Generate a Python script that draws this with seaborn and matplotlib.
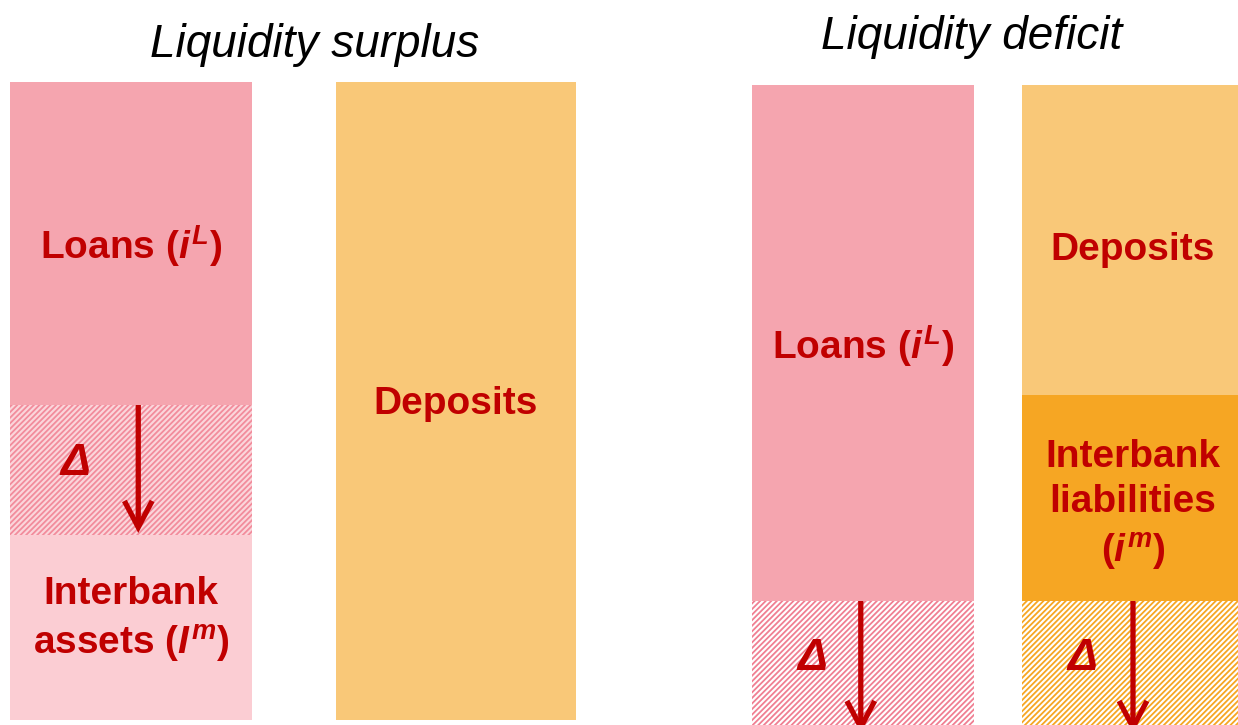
import numpy as np
import matplotlib
matplotlib.use("Agg")
import matplotlib.pyplot as plt
import seaborn as sns

# balance-sheet segments, listed top to bottom (heights in drawing units)
surplus_asset_labels = ["Loans ($i^{L}$)", "Δ", "Interbank\nassets ($I^{m}$)"]
surplus_asset_values = [323, 130, 185]
surplus_liab_labels = ["Deposits"]
surplus_liab_values = [638]

deficit_asset_labels = ["Loans ($i^{L}$)", "Δ"]
deficit_asset_values = [516, 140]
deficit_liab_labels = ["Deposits", "Interbank\nliabilities\n($i^{m}$)", "Δ"]
deficit_liab_values = [310, 206, 140]

titles = ["Liquidity surplus", "Liquidity deficit"]

sns.set_theme(style="white")
plt.rcParams["font.family"] = ["Liberation Sans", "DejaVu Sans"]
plt.rcParams["mathtext.fontset"] = "custom"
plt.rcParams["mathtext.it"] = "Liberation Sans:bold:italic"
plt.rcParams["mathtext.rm"] = "Liberation Sans:bold"
plt.rcParams["mathtext.bf"] = "Liberation Sans:bold"
plt.rcParams["hatch.linewidth"] = 1.3

red = "#C00000"
pink = "#F5A5AF"
light_pink = "#FBCDD3"
peach = "#F9C878"
orange = "#F6A623"

fig = plt.figure(figsize=(12.38, 7.25), dpi=100)
ax = fig.add_axes([0, 0, 1, 1])
ax.set_xlim(0, 1238)
ax.set_ylim(725, 0)
ax.axis("off")


def draw_column(left, width, top, labels, values, styles, arrow_at=0.53, arrow_len=None):
    bottoms = top + np.concatenate([[0], np.cumsum(values)[:-1]])
    for lab, h, b, st in zip(labels, values, bottoms, styles):
        if st.get("hatch"):
            ax.bar(left, h, width=width, bottom=b, align="edge",
                   color=st["bg"], edgecolor=st["line"], hatch="//////", linewidth=0)
            ax.text(left + width * 0.27, b + 58, lab, color=red, fontsize=32,
                    fontweight="bold", fontstyle="italic", ha="center", va="center")
            xa = left + width * arrow_at
            end = b + (arrow_len if arrow_len else h - 2)
            ax.annotate("", xy=(xa, end), xytext=(xa, b), annotation_clip=False,
                        arrowprops=dict(arrowstyle="->,head_length=0.95,head_width=0.5",
                                        mutation_scale=20, color=red, lw=3.8,
                                        shrinkA=0, shrinkB=0,
                                        capstyle="butt", joinstyle="miter"))
        else:
            ax.bar(left, h, width=width, bottom=b, align="edge", color=st["bg"], linewidth=0)
            ax.text(left + width / 2, b + h / 2 + st.get("dy", 3), lab, color=red, fontsize=28,
                    fontweight="bold", ha="center", va="center", linespacing=1.35)


draw_column(10, 242, 82, surplus_asset_labels, surplus_asset_values,
            [{"bg": pink}, {"hatch": True, "bg": "#FBD6DB", "line": "#F28C9C"},
             {"bg": light_pink, "dy": -7}])
draw_column(336, 240, 82, surplus_liab_labels, surplus_liab_values, [{"bg": peach}])
draw_column(752, 222, 85, deficit_asset_labels, deficit_asset_values,
            [{"bg": pink}, {"hatch": True, "bg": "#FFFFFF", "line": "#F07F92"}],
            arrow_at=0.49, arrow_len=132)
draw_column(1022, 222, 85, deficit_liab_labels, deficit_liab_values,
            [{"bg": peach, "dy": 10}, {"bg": orange, "dy": 8},
             {"hatch": True, "bg": "#FFFFFF", "line": "#F6A623"}],
            arrow_at=0.5, arrow_len=132)

ax.text(315, 45, titles[0], fontsize=33, fontstyle="italic", ha="center", va="center", color="black")
ax.text(972, 37, titles[1], fontsize=33, fontstyle="italic", ha="center", va="center", color="black")

fig.savefig("out.png", dpi=100)
